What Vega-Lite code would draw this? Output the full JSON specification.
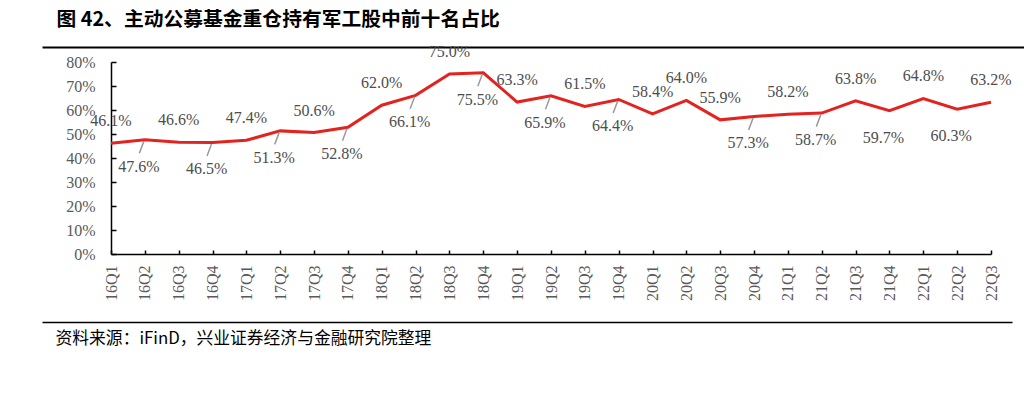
{
  "$schema": "https://vega.github.io/schema/vega-lite/v6.json",
  "width": 880,
  "height": 192,
  "autosize": {"type": "none"},
  "padding": {"left": 111, "top": 62, "right": 33, "bottom": 140},
  "background": "white",
  "config": {
    "view": {"stroke": null},
    "font": "Liberation Serif"
  },
  "data": {
    "values": [
      {"q": "16Q1", "v": 0.461, "pos": "above"},
      {"q": "16Q2", "v": 0.476, "pos": "below"},
      {"q": "16Q3", "v": 0.466, "pos": "above"},
      {"q": "16Q4", "v": 0.465, "pos": "below"},
      {"q": "17Q1", "v": 0.474, "pos": "above"},
      {"q": "17Q2", "v": 0.513, "pos": "below"},
      {"q": "17Q3", "v": 0.506, "pos": "above"},
      {"q": "17Q4", "v": 0.528, "pos": "below"},
      {"q": "18Q1", "v": 0.620, "pos": "above"},
      {"q": "18Q2", "v": 0.661, "pos": "below"},
      {"q": "18Q3", "v": 0.750, "pos": "above"},
      {"q": "18Q4", "v": 0.755, "pos": "below"},
      {"q": "19Q1", "v": 0.633, "pos": "above"},
      {"q": "19Q2", "v": 0.659, "pos": "below"},
      {"q": "19Q3", "v": 0.615, "pos": "above"},
      {"q": "19Q4", "v": 0.644, "pos": "below"},
      {"q": "20Q1", "v": 0.584, "pos": "above"},
      {"q": "20Q2", "v": 0.640, "pos": "above"},
      {"q": "20Q3", "v": 0.559, "pos": "above"},
      {"q": "20Q4", "v": 0.573, "pos": "below"},
      {"q": "21Q1", "v": 0.582, "pos": "above"},
      {"q": "21Q2", "v": 0.587, "pos": "below"},
      {"q": "21Q3", "v": 0.638, "pos": "above"},
      {"q": "21Q4", "v": 0.597, "pos": "below_noline"},
      {"q": "22Q1", "v": 0.648, "pos": "above"},
      {"q": "22Q2", "v": 0.603, "pos": "below_noline"},
      {"q": "22Q3", "v": 0.632, "pos": "above"}
    ]
  },
  "layer": [
    {
      "mark": {"type": "point", "opacity": 0},
      "encoding": {
        "x": {
          "field": "q", "type": "ordinal", "sort": null,
          "scale": {"type": "point", "padding": 0, "range": [-69, 913]},
          "axis": {
            "orient": "top", "offset": 15, "domain": true, "domainColor": "black", "domainWidth": 2,
            "ticks": false, "labels": false, "grid": false,
            "title": "图 42、主动公募基金重仓持有军工股中前十名占比",
            "titleFont": "Noto Sans CJK SC", "titleFontWeight": "bold", "titleFontSize": 19.8,
            "titleColor": "black", "titleAnchor": "start", "titleAlign": "left", "titleBaseline": "middle",
            "titleX": -55, "titleY": -28
          }
        }
      }
    },
    {
      "mark": {"type": "point", "opacity": 0},
      "encoding": {
        "x": {
          "field": "q", "type": "ordinal", "sort": null,
          "scale": {"type": "point", "padding": 0, "range": [-69, 901]},
          "axis": {
            "orient": "bottom", "offset": 68, "domain": true, "domainColor": "black", "domainWidth": 1.5,
            "ticks": false, "labels": false, "grid": false,
            "title": "资料来源：iFinD，兴业证券经济与金融研究院整理",
            "titleFont": "Noto Sans CJK SC", "titleFontWeight": "normal", "titleFontSize": 16.8,
            "titleColor": "black", "titleAnchor": "start", "titleAlign": "left", "titleBaseline": "middle",
            "titleX": -56, "titleY": 16
          }
        }
      }
    },
    {
      "encoding": {
        "x": {
          "field": "q", "type": "ordinal", "sort": null,
          "scale": {"type": "point", "padding": 0},
          "axis": {
            "orient": "bottom", "title": null, "domainColor": "black", "domainWidth": 1.5,
            "tickColor": "black", "tickSize": -4, "tickWidth": 1.5,
            "labelAngle": -90, "labelAlign": "right", "labelBaseline": "middle",
            "labelPadding": 15, "labelFont": "Liberation Serif", "labelFontSize": 16,
            "labelColor": "#595959", "grid": false, "labelOverlap": false
          }
        },
        "y": {
          "field": "v", "type": "quantitative",
          "scale": {"domain": [0, 0.8], "nice": false, "zero": true},
          "axis": {
            "title": null, "values": [0, 0.1, 0.2, 0.3, 0.4, 0.5, 0.6, 0.7, 0.8], "format": ".0%",
            "domainColor": "black", "domainWidth": 1.5, "tickColor": "black", "tickSize": -5, "tickWidth": 1.5,
            "labelPadding": 21, "labelFont": "Liberation Serif", "labelFontSize": 16,
            "labelColor": "#595959", "grid": false, "labelOverlap": false
          }
        }
      },
      "layer": [
        {
          "mark": {"type": "line", "color": "#e3231f", "strokeWidth": 3}
        },
        {
          "transform": [{"filter": "datum.pos == 'below'"}],
          "mark": {"type": "point", "shape": "M-0.1,0.15L-0.55,1.35", "size": 400, "filled": false, "stroke": "#9a9a9a", "strokeWidth": 1.5, "opacity": 1}
        },
        {
          "transform": [{"filter": "datum.pos == 'above'"}],
          "mark": {"type": "text", "dy": -22, "font": "Liberation Serif", "fontSize": 16, "color": "#4d4d4d", "baseline": "middle", "align": "center"},
          "encoding": {
            "text": {"field": "v", "type": "quantitative", "format": ".1%"}
          }
        },
        {
          "transform": [{"filter": "datum.pos != 'above'"}],
          "mark": {"type": "text", "dy": 27, "dx": -6, "font": "Liberation Serif", "fontSize": 16, "color": "#4d4d4d", "baseline": "middle", "align": "center"},
          "encoding": {
            "text": {"field": "v", "type": "quantitative", "format": ".1%"}
          }
        }
      ],
      "resolve": {"scale": {"x": "shared"}, "axis": {"x": "shared"}}
    }
  ],
  "resolve": {"scale": {"x": "independent"}, "axis": {"x": "independent"}}
}
